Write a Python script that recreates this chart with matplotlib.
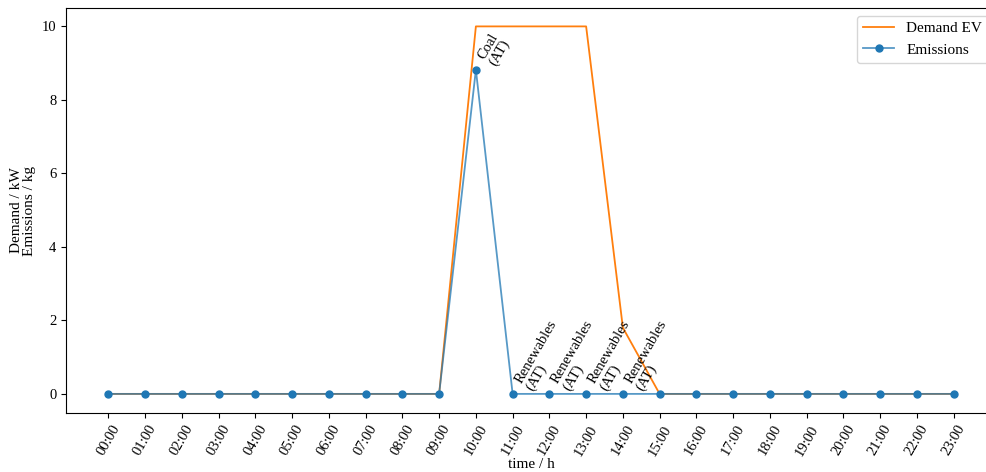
import matplotlib
matplotlib.use("Agg")
import matplotlib.pyplot as plt

plt.rcParams["font.family"] = ["Liberation Serif", "DejaVu Serif"]
plt.rcParams["font.size"] = 11

hours = [f"{h:02d}:00" for h in range(24)]
demand_ev = [0, 0, 0, 0, 0, 0, 0, 0, 0, 0, 10, 10, 10, 10, 1.8, 0,
             0, 0, 0, 0, 0, 0, 0, 0]
emissions = [0, 0, 0, 0, 0, 0, 0, 0, 0, 0, 8.82, 0, 0, 0, 0, 0,
             0, 0, 0, 0, 0, 0, 0, 0]
source_labels = {10: "Coal\n(AT)", 11: "Renewables\n(AT)", 12: "Renewables\n(AT)",
                 13: "Renewables\n(AT)", 14: "Renewables\n(AT)"}

x = list(range(len(hours)))

fig, ax = plt.subplots(figsize=(9.87, 4.72), dpi=100)
# the original was cropped on the right, so the axes run past the edge
fig.subplots_adjust(left=0.067, right=1.009, top=0.983, bottom=0.125)

ax.plot(x, demand_ev, color="#ff7f0e", label="Demand EV", lw=1.3)
# line is slightly see-through over the orange one, markers solid
ax.plot(x, emissions, color=(0.122, 0.467, 0.706, 0.75), marker="o", ms=5,
        markerfacecolor="#1f77b4", markeredgecolor="#1f77b4",
        label="Emissions", lw=1.3)

for idx, text in source_labels.items():
    ax.annotate(text, (x[idx], emissions[idx]), rotation=60,
                ha="left", va="bottom", fontsize=10.5, linespacing=1.0,
                xytext=(0, 1), textcoords="offset points")

ax.set_xticks(x)
ax.set_xticklabels(hours, rotation=60)
ax.tick_params(axis="both", labelsize=10.5)
ax.set_ylim(-0.52, 10.5)
ax.set_xlabel("time / h", labelpad=0, fontsize=11)
ax.set_ylabel("Demand / kW\nEmissions / kg", fontsize=11, linespacing=1.0)
ax.legend(loc="upper right")

fig.savefig("out.png", dpi=100)
